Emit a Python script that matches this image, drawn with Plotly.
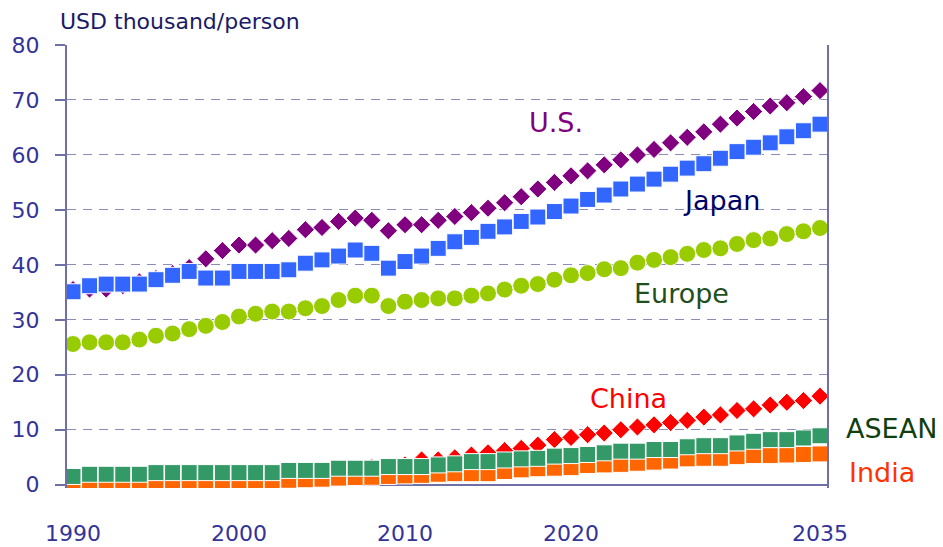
import plotly.graph_objects as go

years = list(range(1990, 2036))

us = [35.5, 35.6, 35.6, 36.2, 36.9, 37.5, 38.4, 39.5, 41.1, 42.6,
      43.6, 43.6, 44.4, 44.8, 46.4, 46.8, 47.9, 48.5, 48.1, 46.2,
      47.3, 47.3, 48.1, 48.8, 49.5, 50.3, 51.3, 52.4, 53.8, 55.0,
      56.2, 57.1, 58.2, 59.1, 60.0, 61.0, 62.2, 63.2, 64.2, 65.6,
      66.7, 67.9, 68.9, 69.5, 70.6, 71.7]
japan = [35.1, 36.2, 36.5, 36.5, 36.5, 37.3, 38.1, 38.8, 37.6, 37.6,
         38.8, 38.8, 38.8, 39.1, 40.3, 40.9, 41.6, 42.7, 42.1, 39.4,
         40.6, 41.6, 43.0, 44.2, 45.0, 46.1, 46.9, 47.9, 48.7, 49.7,
         50.7, 51.9, 52.7, 53.8, 54.7, 55.6, 56.5, 57.6, 58.4, 59.4,
         60.6, 61.4, 62.2, 63.3, 64.4, 65.6]
europe = [25.6, 25.9, 25.9, 25.9, 26.4, 27.1, 27.5, 28.3, 28.9, 29.6,
          30.6, 31.1, 31.5, 31.5, 32.1, 32.5, 33.6, 34.4, 34.4, 32.5,
          33.3, 33.6, 33.9, 33.9, 34.4, 34.8, 35.5, 36.2, 36.5, 37.3,
          38.1, 38.5, 39.2, 39.4, 40.4, 40.9, 41.4, 42.0, 42.7, 43.0,
          43.8, 44.5, 44.8, 45.6, 46.1, 46.7]
china = [0.3, 0.3, 0.4, 0.4, 0.5, 0.5, 0.6, 0.6, 0.7, 0.7,
         0.8, 0.9, 1.0, 1.1, 1.2, 1.4, 1.7, 2.1, 3.1, 3.0,
         3.6, 4.5, 4.5, 4.9, 5.4, 5.8, 6.2, 6.6, 7.2, 8.2,
         8.6, 9.1, 9.4, 10.0, 10.5, 10.9, 11.3, 11.7, 12.3, 12.7,
         13.5, 13.8, 14.5, 15.0, 15.3, 16.1]
asean = [1.5, 1.9, 1.9, 1.9, 1.9, 2.2, 2.2, 2.2, 2.2, 2.2,
         2.2, 2.2, 2.2, 2.6, 2.6, 2.6, 3.0, 3.0, 3.0, 3.3,
         3.3, 3.3, 3.6, 3.8, 4.2, 4.2, 4.5, 4.7, 4.8, 5.2,
         5.3, 5.5, 5.8, 6.1, 6.1, 6.4, 6.4, 6.9, 7.1, 7.1,
         7.6, 7.9, 8.2, 8.2, 8.5, 8.9]
india = [0.4, 0.4, 0.4, 0.45, 0.5, 0.55, 0.6, 0.6, 0.6, 0.65,
         0.7, 0.7, 0.75, 0.8, 0.9, 1.0, 1.2, 1.3, 1.35, 1.5,
         1.6, 1.7, 1.9, 2.0, 2.0, 2.0, 2.4, 2.7, 2.9, 3.0,
         3.1, 3.5, 3.6, 3.7, 3.9, 4.1, 4.3, 4.7, 4.8, 4.8,
         5.1, 5.3, 5.3, 5.4, 5.5, 5.6]

x_ticks = [1990, 2000, 2010, 2020, 2035]
y_ticks = [0, 10, 20, 30, 40, 50, 60, 70, 80]

AXIS = "#7070a8"
GRID = "#8c8cb4"
TICK_TXT = "#333399"
FONT = "DejaVu Sans"

# drawing order: lower layers first (Japan covers U.S., ASEAN covers China/India)
series = [
    ("U.S.", us, "diamond", 14, "#800080"),
    ("China", china, "diamond", 14, "#ff0000"),
    ("India", india, "square", 16, "#ff6600"),
    ("Japan", japan, "square", 16, "#3366ff"),
    ("Europe", europe, "circle", 17, "#99cc00"),
    ("ASEAN", asean, "square", 16, "#339966"),
]

fig = go.Figure()
for name, vals, sym, size, color in series:
    fig.add_trace(go.Scatter(
        x=years, y=vals, mode="markers", name=name,
        marker=dict(symbol=sym, size=size, color=color,
                    line=dict(color="white", width=1)),
    ))

# series labels: (text, x, y, anchor, colour) in paper coords
labels = [
    ("U.S.", 0.643, 0.826, "center", "#800080"),
    ("Japan", 0.861, 0.648, "center", "#000066"),
    ("Europe", 0.808, 0.440, "center", "#1f4f1f"),
    ("China", 0.739, 0.203, "center", "#ff0000"),
    ("ASEAN", 1.022, 0.135, "left", "#0f3f0f"),
    ("India", 1.026, 0.036, "left", "#ff3300"),
]
for text, x, y, anchor, color in labels:
    fig.add_annotation(text=text, x=x, y=y, xref="paper", yref="paper",
                       xanchor=anchor, yanchor="middle", showarrow=False,
                       font=dict(family=FONT, size=27, color=color))

fig.add_annotation(text="USD thousand/person", x=-0.012, y=1.054,
                   xref="paper", yref="paper", xanchor="left",
                   yanchor="middle", showarrow=False,
                   font=dict(family=FONT, size=22, color="#1a1a66"))

# the page body has an 8px margin, so the figure is sized to fit inside it
fig.update_layout(
    width=935, height=539,
    margin=dict(l=59, r=116, t=37, b=59),
    paper_bgcolor="white", plot_bgcolor="white",
    showlegend=False,
    font=dict(family=FONT),
)
fig.update_xaxes(
    range=[1989.64, 2035.42],
    tickvals=x_ticks, ticktext=[str(t) for t in x_ticks],
    showgrid=False, zeroline=False, showline=False, ticks="",
    tickfont=dict(family=FONT, size=22, color=TICK_TXT),
    ticklabelstandoff=30, automargin=False,
)
fig.update_yaxes(
    range=[-0.6, 80],
    tickvals=y_ticks,
    showgrid=True, gridcolor=GRID, gridwidth=1, griddash="9px,7px",
    zeroline=True, zerolinecolor=AXIS, zerolinewidth=1.5,
    showline=True, mirror=True, linecolor=AXIS, linewidth=2,
    ticks="outside", ticklen=10, tickcolor=AXIS, tickwidth=1.5,
    tickfont=dict(family=FONT, size=22, color=TICK_TXT),
    ticklabelstandoff=11, automargin=False,
)

fig.write_html("out.html")
